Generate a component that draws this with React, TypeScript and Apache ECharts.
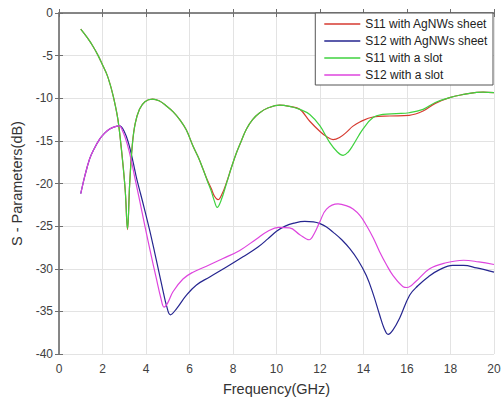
import React, { useEffect, useRef } from "react";
import * as echarts from "echarts";

const xTicks = { min: 0, max: 20, interval: 2 };
const yTicks = { min: -40, max: 0, interval: 5 };

const seriesNames = [
  "S11 with AgNWs sheet",
  "S12 with AgNWs sheet",
  "S11 with a slot",
  "S12 with a slot",
];

const s11AgNWs: [number, number][] = [
  [1.0, -1.9], [1.3, -2.9], [1.56, -3.9], [1.8, -5.0], [2.02, -6.2], [2.2, -7.2],
  [2.33, -8.2], [2.45, -9.3], [2.56, -10.5], [2.71, -12.5], [2.82, -14.8],
  [2.95, -18.0], [3.05, -21.0], [3.15, -25.4], [3.25, -20.0], [3.37, -15.5],
  [3.5, -13.0], [3.7, -11.3], [3.95, -10.4], [4.3, -10.1], [4.6, -10.3],
  [4.94, -10.9], [5.25, -11.6], [5.55, -12.5], [5.85, -13.7], [6.16, -15.6],
  [6.4, -16.9], [6.62, -18.3], [6.82, -19.6], [7.0, -20.6], [7.15, -21.5],
  [7.31, -21.9], [7.5, -21.2], [7.7, -19.9], [7.93, -18.1], [8.16, -16.4],
  [8.4, -14.9], [8.62, -13.6], [8.9, -12.5], [9.23, -11.7], [9.6, -11.15],
  [10.15, -10.8], [10.6, -10.95], [11.07, -11.3], [11.53, -12.7], [12.0, -13.9],
  [12.3, -14.5], [12.6, -14.85], [12.9, -14.6], [13.21, -14.0], [13.5, -13.3],
  [13.83, -12.78], [14.44, -12.2], [15.2, -12.08], [16.1, -12.0], [16.74, -11.5],
  [17.3, -10.6], [17.96, -9.93], [18.6, -9.55], [19.2, -9.3], [19.5, -9.27],
  [20.0, -9.35],
];

const s12AgNWs: [number, number][] = [
  [1.0, -21.2], [1.2, -19.0], [1.41, -17.1], [1.6, -16.0], [1.87, -14.8],
  [2.1, -14.1], [2.33, -13.6], [2.55, -13.35], [2.78, -13.25], [3.0, -13.9],
  [3.2, -15.3], [3.4, -17.4], [3.56, -19.3], [3.75, -21.2], [3.95, -23.2],
  [4.17, -25.5], [4.4, -28.1], [4.63, -30.8], [4.8, -32.8], [4.94, -34.3],
  [5.12, -35.4], [5.4, -34.7], [5.86, -33.1], [6.32, -31.9], [6.93, -30.96],
  [7.7, -29.8], [8.46, -28.6], [9.15, -27.45], [9.6, -26.5], [10.0, -25.6],
  [10.4, -25.0], [10.8, -24.65], [11.3, -24.45], [11.7, -24.5], [12.0, -24.7],
  [12.3, -25.1], [12.6, -25.7], [13.0, -26.6], [13.37, -27.65], [13.75, -29.0],
  [14.13, -30.8], [14.45, -33.0], [14.74, -35.4], [14.95, -37.0], [15.13, -37.7],
  [15.35, -37.2], [15.66, -35.8], [16.12, -33.1], [16.5, -32.0], [17.0, -30.9],
  [17.5, -30.1], [18.1, -29.6], [18.6, -29.6], [19.2, -29.9], [20.0, -30.4],
];

const s11Slot: [number, number][] = [
  [1.0, -1.9], [1.3, -2.9], [1.56, -3.9], [1.8, -5.0], [2.02, -6.2], [2.2, -7.2],
  [2.33, -8.2], [2.45, -9.3], [2.56, -10.5], [2.71, -12.5], [2.82, -14.8],
  [2.95, -18.0], [3.05, -21.0], [3.15, -25.3], [3.25, -20.0], [3.37, -15.5],
  [3.5, -13.0], [3.7, -11.3], [3.95, -10.4], [4.3, -10.1], [4.6, -10.3],
  [4.94, -10.9], [5.25, -11.6], [5.55, -12.5], [5.85, -13.7], [6.16, -15.6],
  [6.4, -16.9], [6.62, -18.3], [6.82, -19.7], [7.0, -20.9], [7.15, -22.1],
  [7.27, -22.8], [7.45, -22.0], [7.7, -20.0], [7.93, -18.1], [8.16, -16.4],
  [8.4, -14.9], [8.62, -13.6], [8.9, -12.5], [9.23, -11.7], [9.6, -11.15],
  [10.15, -10.8], [10.6, -10.95], [11.07, -11.3], [11.53, -11.9], [12.0, -13.25],
  [12.45, -15.2], [12.8, -16.3], [13.06, -16.7], [13.3, -16.3], [13.52, -15.5],
  [13.98, -13.6], [14.44, -12.27], [14.9, -11.9], [15.5, -11.8], [16.1, -11.7],
  [16.74, -11.3], [17.3, -10.5], [17.96, -9.93], [18.6, -9.55], [19.2, -9.3],
  [19.5, -9.27], [20.0, -9.35],
];

const s12Slot: [number, number][] = [
  [1.0, -21.2], [1.2, -19.0], [1.41, -17.1], [1.6, -16.0], [1.87, -14.8],
  [2.1, -14.1], [2.33, -13.6], [2.55, -13.35], [2.76, -13.25], [2.95, -14.0],
  [3.15, -15.5], [3.35, -17.6], [3.5, -19.5], [3.7, -21.9], [3.95, -25.0],
  [4.2, -28.0], [4.48, -31.2], [4.68, -33.4], [4.83, -34.5], [5.0, -34.0],
  [5.24, -32.7], [5.7, -31.2], [6.16, -30.4], [6.78, -29.7], [7.54, -28.8],
  [8.31, -27.85], [9.08, -26.5], [9.6, -25.6], [10.1, -25.15], [10.6, -25.2],
  [11.07, -26.0], [11.5, -26.6], [11.75, -25.8], [11.99, -24.5], [12.3, -23.0],
  [12.83, -22.4], [13.2, -22.6], [13.52, -23.0], [13.85, -23.8], [14.13, -24.9],
  [14.45, -26.4], [14.74, -28.0], [15.05, -29.5], [15.36, -30.8], [15.82, -32.1],
  [16.0, -32.2], [16.4, -31.5], [17.04, -30.0], [17.8, -29.3], [18.6, -29.0],
  [19.3, -29.2], [20.0, -29.5],
];

const seriesData = [s11AgNWs, s12AgNWs, s11Slot, s12Slot];
const seriesColors = ["#d63a30", "#25258f", "#3fd23f", "#de45de"];

const FONT = "'Liberation Sans', Arial, sans-serif";

export default function App() {
  const ref = useRef<HTMLDivElement>(null);
  useEffect(() => {
    if (!ref.current) return;
    const chart = echarts.init(ref.current, null, { renderer: "svg" });
    const axisLine = { show: true, lineStyle: { color: "#7f7f7f", width: 1.5 } };
    const axisTick = { show: true, inside: true, length: 4, lineStyle: { color: "#6f6f6f", width: 1 } };
    chart.setOption({
      animation: false,
      backgroundColor: "#ffffff",
      textStyle: { fontFamily: FONT },
      grid: { left: 59, right: 10, top: 13, bottom: 45, containLabel: false },
      legend: {
        orient: "vertical",
        right: 11,
        top: 13,
        data: seriesNames,
        icon: "path://M0,0H36V1.3H0Z",
        backgroundColor: "#ffffff",
        borderColor: "#555555",
        borderWidth: 1,
        borderRadius: 0,
        padding: [5, 5, 4, 9],
        itemWidth: 36,
        itemHeight: 12,
        itemGap: 5,
        textStyle: { fontFamily: FONT, fontSize: 12, color: "#222222" },
      },
      xAxis: [
        {
          type: "value",
          ...xTicks,
          position: "bottom",
          name: "Frequency(GHz)",
          nameLocation: "middle",
          nameGap: 27,
          nameTextStyle: { fontFamily: FONT, fontSize: 14.5, color: "#333333" },
          axisLine,
          axisTick,
          axisLabel: { fontFamily: FONT, fontSize: 12, color: "#404040", margin: 9 },
          splitLine: { show: true, lineStyle: { color: "#e3e3e3", width: 1 } },
        },
        {
          type: "value",
          ...xTicks,
          position: "top",
          axisLine,
          axisTick,
          axisLabel: { show: false },
          splitLine: { show: false },
        },
      ],
      yAxis: [
        {
          type: "value",
          ...yTicks,
          position: "left",
          name: "S - Parameters(dB)",
          nameLocation: "middle",
          nameGap: 28,
          nameTextStyle: { fontFamily: FONT, fontSize: 14.5, color: "#333333" },
          axisLine,
          axisTick,
          axisLabel: { fontFamily: FONT, fontSize: 12, color: "#404040", margin: 6 },
          splitLine: { show: true, lineStyle: { color: "#e3e3e3", width: 1 } },
        },
        {
          type: "value",
          ...yTicks,
          position: "right",
          axisLine,
          axisTick,
          axisLabel: { show: false },
          splitLine: { show: false },
        },
      ],
      series: seriesNames.map((name, i) => ({
        name,
        type: "line",
        xAxisIndex: 0,
        yAxisIndex: 0,
        data: seriesData[i],
        symbol: "none",
        smooth: 0.4,
        color: seriesColors[i],
        lineStyle: { color: seriesColors[i], width: 1.2 },
        z: 2 + i,
      })),
    });
    return () => chart.dispose();
  }, []);
  return (
    <div
      ref={ref}
      style={{ position: "fixed", left: 0, top: 0, width: 504, height: 401 }}
    />
  );
}
